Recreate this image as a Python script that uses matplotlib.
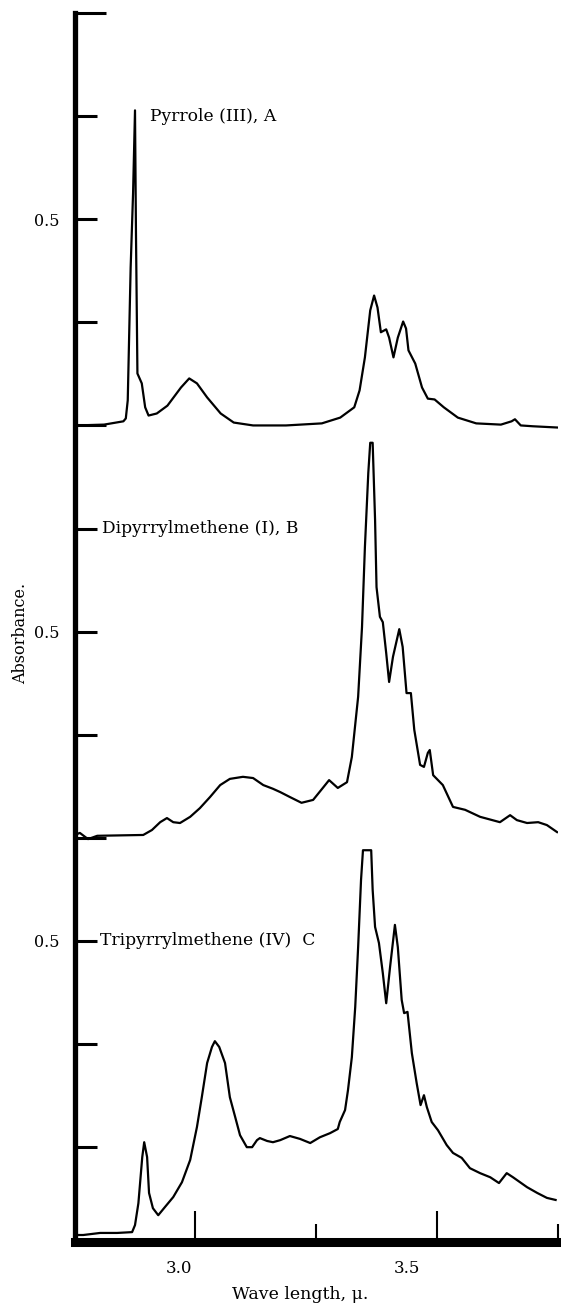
import matplotlib.pyplot as plt
from matplotlib.transforms import ScaledTranslation

plt.rcParams['font.family'] = 'DejaVu Serif'

# Pyrrole (III), A  -- wave length (micron) / absorbance
wave_a = [2.757, 2.813, 2.853, 2.858, 2.862, 2.868, 2.873, 2.877, 2.879, 2.882,
          2.891, 2.898, 2.905, 2.922, 2.944, 2.972, 2.989, 3.005, 3.026, 3.054,
          3.081, 3.121, 3.189, 3.263, 3.301, 3.330, 3.341, 3.352, 3.363, 3.371,
          3.378, 3.385, 3.396, 3.402, 3.411, 3.420, 3.431, 3.437, 3.442, 3.456,
          3.470, 3.482, 3.496, 3.515, 3.544, 3.582, 3.633, 3.655, 3.662, 3.674,
          3.699, 3.749]
abs_a = [0.000, 0.002, 0.010, 0.017, 0.061, 0.383, 0.563, 0.764, 0.466, 0.126,
         0.102, 0.044, 0.024, 0.029, 0.048, 0.092, 0.114, 0.102, 0.068, 0.029,
         0.007, 0.000, 0.000, 0.005, 0.019, 0.044, 0.085, 0.165, 0.279, 0.315,
         0.286, 0.226, 0.233, 0.213, 0.165, 0.213, 0.252, 0.235, 0.182, 0.150,
         0.092, 0.065, 0.063, 0.044, 0.019, 0.005, 0.002, 0.010, 0.015, 0.000,
         -0.002, -0.005]

# Dipyrrylmethene (I), B
wave_b = [2.749, 2.763, 2.780, 2.799, 2.846, 2.894, 2.912, 2.929, 2.943, 2.956,
          2.970, 2.991, 3.011, 3.032, 3.053, 3.073, 3.100, 3.121, 3.142, 3.162,
          3.177, 3.197, 3.221, 3.245, 3.265, 3.278, 3.296, 3.315, 3.325, 3.338,
          3.346, 3.352, 3.359, 3.363, 3.368, 3.373, 3.376, 3.383, 3.389, 3.396,
          3.402, 3.410, 3.423, 3.430, 3.438, 3.447, 3.454, 3.466, 3.474, 3.482,
          3.486, 3.493, 3.513, 3.534, 3.559, 3.590, 3.631, 3.652, 3.666, 3.687,
          3.710, 3.728, 3.749]
abs_b = [0.015, 0.022, 0.007, 0.015, 0.016, 0.017, 0.029, 0.048, 0.058, 0.048,
         0.046, 0.061, 0.082, 0.109, 0.138, 0.153, 0.158, 0.155, 0.138, 0.129,
         0.121, 0.109, 0.095, 0.102, 0.131, 0.150, 0.131, 0.145, 0.206, 0.352,
         0.521, 0.715, 0.895, 0.968, 0.968, 0.781, 0.618, 0.546, 0.533, 0.458,
         0.388, 0.449, 0.516, 0.473, 0.361, 0.361, 0.272, 0.187, 0.182, 0.216,
         0.223, 0.162, 0.138, 0.085, 0.078, 0.061, 0.048, 0.065, 0.053, 0.046,
         0.048, 0.041, 0.024]

# Tripyrrylmethene (IV), C
wave_c = [2.747, 2.770, 2.805, 2.840, 2.871, 2.877, 2.884, 2.892, 2.896, 2.902,
          2.906, 2.914, 2.925, 2.939, 2.956, 2.974, 2.991, 3.005, 3.015, 3.026,
          3.036, 3.042, 3.051, 3.063, 3.073, 3.084, 3.094, 3.108, 3.119, 3.129,
          3.135, 3.150, 3.162, 3.177, 3.197, 3.218, 3.239, 3.259, 3.280, 3.296,
          3.300, 3.311, 3.317, 3.325, 3.332, 3.338, 3.344, 3.348, 3.365, 3.368,
          3.373, 3.381, 3.389, 3.396, 3.404, 3.414, 3.420, 3.428, 3.433, 3.440,
          3.449, 3.459, 3.467, 3.474, 3.480, 3.490, 3.503, 3.521, 3.534, 3.552,
          3.569, 3.590, 3.611, 3.629, 3.645, 3.658, 3.687, 3.708, 3.728, 3.746]
abs_c = [-0.213, -0.213, -0.208, -0.208, -0.206, -0.189, -0.136, -0.024, 0.012, -0.024,
         -0.111, -0.148, -0.165, -0.145, -0.121, -0.085, -0.031, 0.049, 0.121, 0.204,
         0.243, 0.257, 0.243, 0.204, 0.121, 0.073, 0.029, 0.000, 0.000, 0.017,
         0.022, 0.015, 0.012, 0.017, 0.027, 0.020, 0.010, 0.024, 0.034, 0.044,
         0.061, 0.090, 0.138, 0.218, 0.340, 0.485, 0.648, 0.720, 0.720, 0.624,
         0.534, 0.495, 0.422, 0.349, 0.437, 0.539, 0.485, 0.357, 0.325, 0.328,
         0.228, 0.155, 0.102, 0.126, 0.097, 0.061, 0.041, 0.005, -0.014, -0.026,
         -0.051, -0.063, -0.073, -0.087, -0.063, -0.073, -0.097, -0.111, -0.123, -0.128]

trace_names = ["Pyrrole (III), A", "Dipyrrylmethene (I), B", "Tripyrrylmethene (IV)  C"]

fig = plt.figure(figsize=(5.61, 13.03), dpi=100, facecolor='w')
ax = fig.add_axes([0.1328, 0.0468, 0.8619, 0.9432])

# the three spectra are stacked on one chart, each shifted up
offsets = [2.0, 0.99, 0.25]
for wave, absorb, off in zip([wave_a, wave_b, wave_c], [abs_a, abs_b, abs_c], offsets):
    ax.plot(wave, [v + off for v in absorb], color='black', linewidth=1.6,
            solid_joinstyle='round')

ax.text(2.908, 2.75, trace_names[0], fontsize=12.3, va='center')
ax.text(2.809, 1.75, trace_names[1], fontsize=12.3, va='center')
ax.text(2.805, 0.75, trace_names[2], fontsize=12.3, va='center')

ax.set_xlim(2.752, 3.751)
ax.set_ylim(0.02, 3.0)

for side in ['top', 'right']:
    ax.spines[side].set_visible(False)
ax.spines['left'].set_linewidth(3.8)
ax.spines['bottom'].set_linewidth(6.5)

# y ticks: long ones at each baseline and the top, short ones in between
ax.set_yticks([1.0, 2.0, 3.0])
ax.set_yticks([0.25, 0.5, 0.75, 1.25, 1.5, 1.75, 2.25, 2.5, 2.75], minor=True)
ax.set_yticklabels(['', '', ''])
ax.set_yticklabels(['', '', '0.5', '', '0.5', '', '', '0.5', ''], minor=True)
ax.tick_params(axis='y', which='major', direction='in', length=22, width=2.2)
ax.tick_params(axis='y', which='minor', direction='in', length=16, width=2.2,
               labelsize=11.5, pad=11)

ax.set_xticks([3.0, 3.5])
ax.set_xticks([3.25, 3.75], minor=True)
ax.set_xticklabels(['3.0', '3.5'])
ax.tick_params(axis='x', which='major', direction='in', length=22, width=1.5,
               labelsize=12, pad=13)
ax.tick_params(axis='x', which='minor', direction='in', length=13, width=1.5)

ax.set_xlabel("Wave length, \u03bc.", fontsize=12.5)
ax.xaxis.set_label_coords(0.466, -0.0355)
ax.set_ylabel("Absorbance.", fontsize=11.5)
ax.yaxis.set_label_coords(-0.094, 0.4955)

# printed labels sit a little to the left of their ticks
fig.canvas.draw()
for tick, dx in zip(ax.xaxis.get_major_ticks(), [-15.5, -30]):
    tick.label1.set_transform(tick.label1.get_transform()
                              + ScaledTranslation(dx / 100, 0, fig.dpi_scale_trans))

fig.savefig("out.png", dpi=100, facecolor='w')
